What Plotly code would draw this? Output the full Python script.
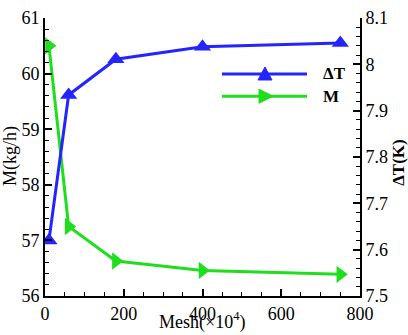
import plotly.graph_objects as go

mesh = [10, 60, 180, 400, 750]
delta_t = [7.62, 7.934, 8.011, 8.038, 8.046]
m_flow = [60.5, 57.25, 56.63, 56.46, 56.39]

blue = "#2424ff"
green = "#1ede1e"
font = "Liberation Serif, Times New Roman, serif"

fig = go.Figure()
fig.add_trace(go.Scatter(x=mesh, y=delta_t, yaxis="y2", mode="lines+markers",
                         line=dict(color=blue, width=3),
                         marker=dict(symbol="triangle-up", size=15, color=blue),
                         showlegend=False))
fig.add_trace(go.Scatter(x=mesh, y=m_flow, yaxis="y", mode="lines+markers",
                         line=dict(color=green, width=3),
                         marker=dict(symbol="triangle-right", size=15, color=green),
                         showlegend=False))

L, R, T, B = 45, 48, 8, 39
W, H = 408, 335
pw, ph = W - L - R, H - T - B

def px(x):
    return (x - L) / pw

def py(y):
    return (H - B - y) / ph

axis_common = dict(showline=True, linecolor="black", linewidth=2, ticks="inside",
                   ticklen=7, tickwidth=1.5, tickcolor="black", showgrid=False,
                   zeroline=False, ticklabeloverflow="allow",
                   tickfont=dict(family=font, size=18, color="black"))

fig.update_layout(
    width=W, height=H,
    margin=dict(l=L, r=R, t=T, b=B),
    plot_bgcolor="white", paper_bgcolor="white",
    xaxis=dict(range=[0, 800], dtick=200, tick0=0,
               minor=dict(dtick=50, ticks="inside", ticklen=4, tickcolor="black", tickwidth=1),
               **axis_common),
    yaxis=dict(range=[56, 61.0005], tickmode="array", tickvals=[56, 57, 58, 59, 60, 61],
               minor=dict(dtick=0.2, tick0=56, ticks="inside", ticklen=4, tickcolor="black", tickwidth=1),
               **axis_common),
    yaxis2=dict(range=[7.5, 8.10005], overlaying="y", side="right", tickmode="array",
                tickvals=[7.5, 7.6, 7.7, 7.8, 7.9, 8.0, 8.1],
                ticktext=["7.5", "7.6", "7.7", "7.8", "7.9", "8", "8.1"],
                minor=dict(dtick=0.02, tick0=7.5, ticks="inside", ticklen=4, tickcolor="black", tickwidth=1),
                **axis_common),
)

# axis titles
fig.add_annotation(text="M(kg/h)", xref="paper", yref="paper", x=px(10), y=py(151),
                   textangle=-90, showarrow=False, xanchor="center", yanchor="middle",
                   font=dict(family=font, size=18, color="black"))
fig.add_annotation(text="<b>ΔT(K)</b>", xref="paper", yref="paper", x=px(399), y=py(158),
                   textangle=-90, showarrow=False, xanchor="center", yanchor="middle",
                   font=dict(family=font, size=17, color="black"))
fig.add_annotation(text="Mesh(×10<sup>4</sup>)", xref="paper", yref="paper", x=px(202), y=py(335),
                   showarrow=False, xanchor="center", yanchor="bottom", borderpad=0,
                   font=dict(family=font, size=18, color="black"))

# custom legend
legend_items = [("ΔT", blue, 66, "M-7,-6 L7,-6 L0,7 Z"), ("M", green, 89, "M-6,-7 L-6,7 L8,0 Z")]
for label, col, yy, path in legend_items:
    fig.add_shape(type="line", xref="paper", yref="paper", x0=px(222), x1=px(307),
                  y0=py(yy), y1=py(yy), line=dict(color=col, width=3))
    fig.add_shape(type="path", xref="paper", yref="paper", xsizemode="pixel", ysizemode="pixel",
                  xanchor=px(265), yanchor=py(yy), path=path, fillcolor=col,
                  line=dict(color=col, width=1))
    fig.add_annotation(text="<b>%s</b>" % label, xref="paper", yref="paper", x=px(321), y=py(yy),
                       showarrow=False, xanchor="left", yanchor="middle",
                       font=dict(family=font, size=17, color="black"))

fig.write_html("out.html", config={"displayModeBar": False},
               post_script="document.body.style.margin='0px';")
